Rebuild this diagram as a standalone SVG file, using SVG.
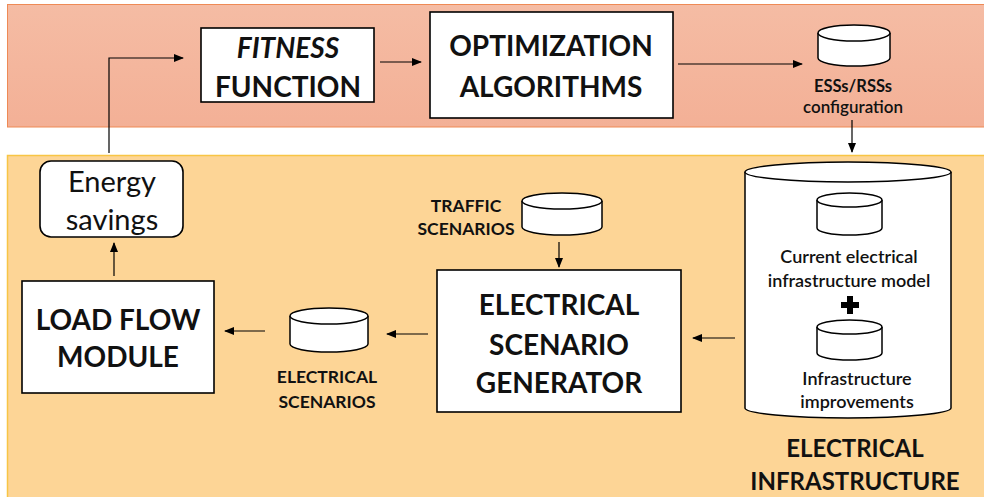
<svg xmlns="http://www.w3.org/2000/svg" width="984" height="497" viewBox="0 0 984 497">
<defs>
<linearGradient id="topg" x1="0" y1="0" x2="0" y2="1">
<stop offset="0" stop-color="#F5BCA4"/>
<stop offset="1" stop-color="#F3B096"/>
</linearGradient>
<marker id="ah" markerWidth="10" markerHeight="8" refX="9" refY="4" orient="auto" markerUnits="userSpaceOnUse">
<path d="M0,0 L10,4 L0,8 Z" fill="#000"/>
</marker>
<style>
.box{fill:#fff;stroke:#000;stroke-width:1.6}
.cyl{fill:#fff;stroke:#000;stroke-width:1.5}
.t{font-family:Lato,"Open Sans","Liberation Sans",sans-serif;fill:#111;text-anchor:middle}
.big{font-size:28px;font-weight:700}
.lbl{font-size:17.5px;font-weight:700}
.sm{font-size:18px;font-weight:600}
.con{fill:none;stroke:#000;stroke-width:1.2;marker-end:url(#ah)}
</style>
</defs>
<rect width="984" height="497" fill="#fff"/>
<rect x="7.5" y="4.5" width="980" height="122.5" fill="url(#topg)" stroke="#EE8A55" stroke-width="1"/>
<rect x="7.5" y="155.5" width="980" height="345" fill="#FDD596" stroke="#F8C545" stroke-width="1.5"/>

<g id="connectors">
<path class="con" d="M109,153 V58 H183"/>
<path class="con" d="M380,62 H421"/>
<path class="con" d="M678,64 H802"/>
<path class="con" d="M852,120 V152"/>
<path class="con" d="M114,276 V243"/>
<path class="con" d="M265,331 H225"/>
<path class="con" d="M428,334 H387"/>
<path class="con" d="M559,242 V267"/>
<path class="con" d="M735,338 H693"/>
</g>

<g id="fitness">
<rect class="box" x="201" y="28" width="173" height="74"/>
<text class="t big" x="288" y="58" font-style="italic">FITNESS</text>
<text class="t big" x="288" y="97">FUNCTION</text>
</g>

<g id="optimization">
<rect class="box" x="430" y="12" width="243" height="106"/>
<text class="t big" x="551" y="56" font-size="29">OPTIMIZATION</text>
<text class="t big" x="551" y="97" font-size="29">ALGORITHMS</text>
</g>

<g id="ess">
<path class="cyl" d="M818,33 V58 A36,8 0 0 0 890,58 V33"/>
<ellipse class="cyl" cx="854" cy="33" rx="36" ry="8"/>
<text class="t" x="853" y="92" font-size="16.5" font-weight="700">ESSs/RSSs</text>
<text class="t" x="853" y="113" font-size="17" font-weight="600">configuration</text>
</g>

<g id="energy">
<rect class="box" x="40" y="161" width="143" height="76" rx="11"/>
<text class="t" x="112" y="192" font-size="29">Energy</text>
<text class="t" x="112" y="230" font-size="29">savings</text>
</g>

<g id="loadflow">
<rect class="box" x="22" y="281" width="192" height="112"/>
<text class="t big" x="118" y="330" font-size="29">LOAD FLOW</text>
<text class="t big" x="118" y="367" font-size="29">MODULE</text>
</g>

<g id="elecscen">
<path class="cyl" d="M290,316 V344 A39,8 0 0 0 368,344 V316"/>
<ellipse class="cyl" cx="329" cy="316" rx="39" ry="8"/>
<text class="t lbl" x="327" y="383">ELECTRICAL</text>
<text class="t lbl" x="327" y="408">SCENARIOS</text>
</g>

<g id="traffic">
<path class="cyl" d="M522,201 V227 A40,8 0 0 0 602,227 V201"/>
<ellipse class="cyl" cx="562" cy="201" rx="40" ry="8"/>
<text class="t lbl" x="466" y="212">TRAFFIC</text>
<text class="t lbl" x="466" y="235">SCENARIOS</text>
</g>

<g id="generator">
<rect class="box" x="437" y="270" width="244" height="142"/>
<text class="t big" x="559" y="315">ELECTRICAL</text>
<text class="t big" x="559" y="355">SCENARIO</text>
<text class="t big" x="559" y="393">GENERATOR</text>
</g>

<g id="infrastructure">
<path class="cyl" d="M745,172 V408 A103,10 0 0 0 951,408 V172"/>
<ellipse class="cyl" cx="848" cy="172" rx="103" ry="10"/>
<path class="cyl" d="M817,200 V228 A32.5,7 0 0 0 882,228 V200"/>
<ellipse class="cyl" cx="849.5" cy="200" rx="32.5" ry="7"/>
<text class="t sm" x="849" y="263">Current electrical</text>
<text class="t sm" x="849" y="287">infrastructure model</text>
<rect x="841" y="302" width="18" height="6" fill="#000"/>
<rect x="847" y="296" width="6" height="18" fill="#000"/>
<path class="cyl" d="M817,327 V353 A32.5,7 0 0 0 882,353 V327"/>
<ellipse class="cyl" cx="849.5" cy="327" rx="32.5" ry="7"/>
<text class="t sm" x="857" y="385">Infrastructure</text>
<text class="t sm" x="857" y="408">improvements</text>
<text class="t" x="855" y="457" font-size="24" font-weight="700">ELECTRICAL</text>
<text class="t" x="855" y="490" font-size="24" font-weight="700">INFRASTRUCTURE</text>
</g>
</svg>
